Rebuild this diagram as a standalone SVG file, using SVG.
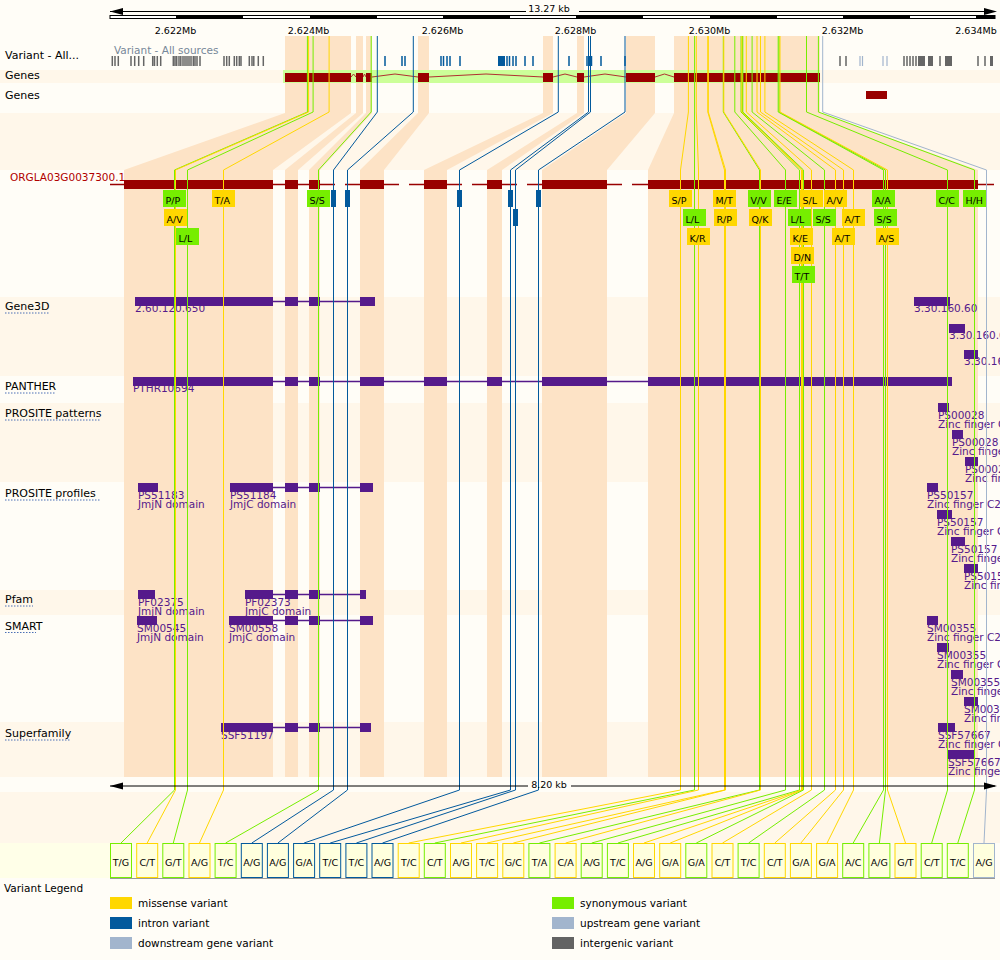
<svg xmlns="http://www.w3.org/2000/svg" width="1000" height="960" viewBox="0 0 1000 960">
<style>
text{font-family:"DejaVu Sans","Liberation Sans",sans-serif}
.tl{font-size:11px;fill:#000}
.mb{font-size:9.5px;fill:#000;text-anchor:middle}
.dom{font-size:10.5px;fill:#551a8b}
.vc{font-size:9.5px;fill:#000}
.bc{font-size:9.5px;fill:#000;text-anchor:middle}
.ul{stroke:#4a6fb5;stroke-width:1;stroke-dasharray:1.5,1.5;fill:none}
.pe{fill:#fde3c6}
.st{fill:#fff7ea}
.gx{fill:#990000}
.pu{fill:#551a8b}
.pl{stroke:#551a8b;stroke-width:1.5;fill:none}
.Y{fill:#ffd700}.G{fill:#76ee00}.B{fill:#02599c}.L{fill:#a2b5cd}.I{fill:#636363}
.cn polyline{fill:none;stroke-width:1}
.lY{stroke:#ffd700}.lG{stroke:#76ee00}.lB{stroke:#02599c}.lL{stroke:#a2b5cd}
.bx{fill:#ffffdd;stroke-width:1}
.sY{stroke:#ffd700}.sG{stroke:#76ee00}.sB{stroke:#02599c}.sL{stroke:#a2b5cd}
</style>
<defs>
<path id="arrL" d="M0,0 L13,-3.5 L13,3.5 Z"/>
</defs>
<!-- background -->
<rect x="0" y="0" width="1000" height="960" fill="#fffdf7"/>
<rect class="st" x="0" y="70" width="1000" height="13"/>
<rect class="st" x="0" y="113" width="1000" height="57"/>
<rect class="st" x="0" y="297" width="1000" height="79"/>
<rect class="st" x="0" y="403" width="1000" height="79"/>
<rect class="st" x="0" y="590" width="1000" height="25"/>
<rect class="st" x="0" y="722" width="1000" height="55"/>
<rect class="st" x="0" y="792" width="1000" height="51"/>
<rect x="0" y="843" width="995" height="35" fill="#ffffe8"/>

<!-- exon projection bands -->
<g id="bands">
<polygon class="pe" points="285,36 351,36 351,113 273,170 273,777 124,777 124,170 285,113"/>
<polygon class="pe" points="356,36 363,36 363,113 298,170 298,777 285,777 285,170 356,113"/>
<polygon class="pe" points="366,36 372,36 372,113 320,170 320,777 309,777 309,170 366,113"/>
<polygon class="pe" points="418,36 429,36 429,113 384,170 384,777 360,777 360,170 418,113"/>
<polygon class="pe" points="543,36 553,36 553,113 447,170 447,777 424,777 424,170 543,113"/>
<polygon class="pe" points="577,36 584,36 584,113 502,170 502,777 487,777 487,170 577,113"/>
<polygon class="pe" points="626,36 655,36 655,113 607,170 607,777 542,777 542,170 626,113"/>
<polygon class="pe" points="674,36 820,36 820,113 978,170 978,777 648,777 648,170 674,113"/>
</g>

<!-- top ruler -->
<g id="ruler-top">
<line x1="110" y1="11.5" x2="526" y2="11.5" stroke="#000"/>
<line x1="579" y1="11.5" x2="995" y2="11.5" stroke="#000"/>
<use href="#arrL" x="110" y="11.5"/>
<use href="#arrL" transform="translate(997,11.5) scale(-1,1)"/>
<text class="mb" x="549" y="12">13.27 kb</text>
<rect x="110" y="15.5" width="885" height="3" fill="#fff" stroke="#000" stroke-width="1"/>
<path d="M176,15.5h67v3h-67zM310,15.5h67v3h-67zM443,15.5h67v3h-67zM576,15.5h67v3h-67zM710,15.5h67v3h-67zM843,15.5h67v3h-67zM976,15.5h19v3h-19z" fill="#000"/>
<text class="mb" x="175.5" y="34">2.622Mb</text>
<text class="mb" x="308.5" y="34">2.624Mb</text>
<text class="mb" x="442.5" y="34">2.626Mb</text>
<text class="mb" x="575.5" y="34">2.628Mb</text>
<text class="mb" x="709.5" y="34">2.630Mb</text>
<text class="mb" x="842.5" y="34">2.632Mb</text>
<text class="mb" x="976" y="34">2.634Mb</text>
</g>

<!-- variant track -->
<g id="variant-track">
<text class="tl" x="5" y="59">Variant - All...</text>
<text x="114" y="54" style="font-size:10.5px;fill:#778899">Variant - All sources</text>
<path stroke="#666" stroke-width="1.5" d="M112.3,56v10M115,56v10M118.3,56v10M131,56v10M134.7,56v10M138.7,56v10M143.7,56v10M152.7,56v10M154.5,56v10M157.3,56v10M160.7,56v10M173.3,56v10M175,56v10M176.7,56v10M179,56v10M180.8,56v10M183,56v10M185,56v10M187,56v10M189,56v10M191,56v10M193.3,56v10M195,56v10M197,56v10M200,56v10M224,56v10M226.7,56v10M229.3,56v10M234.3,56v10M236.7,56v10M239.3,56v10M241,56v10M249.3,56v10M252,56v10M253.8,56v10M258.3,56v10M263.3,56v10M840,56v10M846,56v10M904,56v10M907,56v10M910,56v10M913,56v10M916,56v10M940,56v10M978,56v10M985,56v10"/>
<path fill="#666" d="M918,56h7v10h-7zM928,56h5v10h-5zM945,56h7v10h-7zM990,56h3v10h-3z"/>
<path stroke="#a2b5cd" stroke-width="1.2" d="M860,56v10M862.5,56v10M883,56v10M887,56v10"/>
<path stroke="#02599c" stroke-width="1.5" d="M385,56v10M402,56v10M405,56v10M441,56v10M443.5,56v10M447,56v10M450,56v10M460,56v10M507,56v10M509.5,56v10M513,56v10M516,56v10M525,56v10M533,56v10M569,56v10M587,56v10M589.3,56v10M591.5,56v10M601,56v10M625,56v10"/>
<rect x="498" y="56" width="7" height="10" fill="#02599c"/>
</g>

<!-- genes tracks -->
<g id="genes-1">
<text class="tl" x="5" y="79">Genes</text>
<rect x="283" y="70" width="537" height="13" fill="#ccff99"/>
<polyline fill="none" stroke="#b03030" stroke-width="1" points="351,77 353.5,74 356,77"/>
<polyline fill="none" stroke="#b03030" stroke-width="1" points="363,77 364.5,74 366,77"/>
<polyline fill="none" stroke="#b03030" stroke-width="1" points="372,77 395,74 418,77"/>
<polyline fill="none" stroke="#b03030" stroke-width="1" points="429,77 486,74 543,77"/>
<polyline fill="none" stroke="#b03030" stroke-width="1" points="553,77 565,74 577,77"/>
<polyline fill="none" stroke="#b03030" stroke-width="1" points="584,77 605,74 626,77"/>
<polyline fill="none" stroke="#b03030" stroke-width="1" points="655,77 664.5,74 674,77"/>
<path class="gx" d="M285,73h66v9h-66zM356,73h7v9h-7zM366,73h6v9h-6zM418,73h11v9h-11zM543,73h10v9h-10zM577,73h7v9h-7zM626,73h29v9h-29zM674,73h146v9h-146z"/>
</g>
<g id="genes-2">
<text class="tl" x="5" y="99">Genes</text>
<rect class="gx" x="866" y="91" width="21" height="8"/>
</g>

<!-- transcript -->
<g id="transcript">
<text x="10" y="181" style="font-size:10.5px;fill:#b00000">ORGLA03G0037300.1</text>
<path stroke="#990000" stroke-width="1.5" d="M110,184.5h14M273,184.5h12M298,184.5h11M320,184.5h15M345,184.5h15M384,184.5h15M409,184.5h15M447,184.5h15M472,184.5h15M502,184.5h15M527,184.5h15M607,184.5h15M632,184.5h16M978,184.5h16"/>
<path class="gx" d="M124,180h149v9h-149zM285,180h13v9h-13zM309,180h11v9h-11zM360,180h24v9h-24zM424,180h23v9h-23zM487,180h15v9h-15zM542,180h65v9h-65zM648,180h330v9h-330z"/>
</g>

<!-- domain tracks -->
<g id="gene3d">
<text class="tl" x="5" y="310">Gene3D</text><line class="ul" x1="5" y1="313" x2="49" y2="313"/>
<line class="pl" x1="273" y1="301.5" x2="360" y2="301.5"/>
<path class="pu" d="M135,297h138v9h-138zM285,297h13v9h-13zM309,297h11v9h-11zM360,297h15v9h-15zM914,297h36v9h-36zM949,324h16v9h-16zM964,350h14v9h-14z"/>
<text class="dom" x="135" y="312">2.60.120.650</text>
<text class="dom" x="914" y="312">3.30.160.60</text>
<text class="dom" x="949" y="339">3.30.160.60</text>
<text class="dom" x="964" y="365">3.30.160.60</text>
</g>
<g id="panther">
<text class="tl" x="5" y="390">PANTHER</text><line class="ul" x1="5" y1="393" x2="56" y2="393"/>
<line class="pl" x1="273" y1="381.5" x2="952" y2="381.5"/>
<path class="pu" d="M133,377h140v9h-140zM285,377h13v9h-13zM309,377h11v9h-11zM360,377h24v9h-24zM424,377h23v9h-23zM487,377h15v9h-15zM542,377h65v9h-65zM648,377h304v9h-304z"/>
<text class="dom" x="133" y="392">PTHR10694</text>
</g>
<g id="prosite-patterns">
<text class="tl" x="5" y="417">PROSITE patterns</text><line class="ul" x1="5" y1="420" x2="101" y2="420"/>
<path class="pu" d="M938,403h11v9h-11zM952,430h11v9h-11zM965,457h13v9h-13z"/>
<text class="dom" x="938" y="418.5">PS00028</text><text class="dom" x="938" y="428">Zinc finger C2H2</text>
<text class="dom" x="952" y="445.5">PS00028</text><text class="dom" x="952" y="455">Zinc finger C2H2</text>
<text class="dom" x="965" y="472.5">PS00028</text><text class="dom" x="965" y="482">Zinc finger C2H2</text>
</g>
<g id="prosite-profiles">
<text class="tl" x="5" y="497">PROSITE profiles</text><line class="ul" x1="5" y1="500" x2="100" y2="500"/>
<line class="pl" x1="273" y1="487.5" x2="373" y2="487.5"/>
<path class="pu" d="M138,483h20v9h-20zM230,483h43v9h-43zM285,483h13v9h-13zM309,483h11v9h-11zM360,483h13v9h-13zM927,483h11v9h-11zM937,510h15v9h-15zM951,537h14v9h-14zM964,564h14v9h-14z"/>
<text class="dom" x="138" y="498.5">PS51183</text><text class="dom" x="138" y="508">JmjN domain</text>
<text class="dom" x="230" y="498.5">PS51184</text><text class="dom" x="230" y="508">JmjC domain</text>
<text class="dom" x="927" y="498.5">PS50157</text><text class="dom" x="927" y="508">Zinc finger C2H2</text>
<text class="dom" x="937" y="525.5">PS50157</text><text class="dom" x="937" y="535">Zinc finger C2H2</text>
<text class="dom" x="951" y="552.5">PS50157</text><text class="dom" x="951" y="562">Zinc finger C2H2</text>
<text class="dom" x="964" y="579.5">PS50157</text><text class="dom" x="964" y="589">Zinc finger C2H2</text>
</g>
<g id="pfam">
<text class="tl" x="5" y="603">Pfam</text><line class="ul" x1="5" y1="606" x2="33" y2="606"/>
<line class="pl" x1="273" y1="594.5" x2="366" y2="594.5"/>
<path class="pu" d="M138,590h17v9h-17zM245,590h28v9h-28zM285,590h13v9h-13zM309,590h11v9h-11zM360,590h6v9h-6z"/>
<text class="dom" x="138" y="605.5">PF02375</text><text class="dom" x="138" y="615">JmjN domain</text>
<text class="dom" x="245" y="605.5">PF02373</text><text class="dom" x="245" y="615">JmjC domain</text>
</g>
<g id="smart">
<text class="tl" x="5" y="629.5">SMART</text><line class="ul" x1="5" y1="632.5" x2="36" y2="632.5"/>
<line class="pl" x1="273" y1="620.5" x2="373" y2="620.5"/>
<path class="pu" d="M137,616h20v9h-20zM229,616h44v9h-44zM285,616h13v9h-13zM309,616h11v9h-11zM360,616h13v9h-13zM927,616h11v9h-11zM937,643h12v9h-12zM951,670h12v9h-12zM964,697h14v9h-14z"/>
<text class="dom" x="137" y="631.5">SM00545</text><text class="dom" x="137" y="641">JmjN domain</text>
<text class="dom" x="229" y="631.5">SM00558</text><text class="dom" x="229" y="641">JmjC domain</text>
<text class="dom" x="927" y="631.5">SM00355</text><text class="dom" x="927" y="641">Zinc finger C2H2</text>
<text class="dom" x="937" y="658.5">SM00355</text><text class="dom" x="937" y="668">Zinc finger C2H2</text>
<text class="dom" x="951" y="685.5">SM00355</text><text class="dom" x="951" y="695">Zinc finger C2H2</text>
<text class="dom" x="964" y="712.5">SM00355</text><text class="dom" x="964" y="722">Zinc finger C2H2</text>
</g>
<g id="superfamily">
<text class="tl" x="5" y="737">Superfamily</text><line class="ul" x1="5" y1="740" x2="71" y2="740"/>
<line class="pl" x1="273" y1="727.5" x2="371" y2="727.5"/>
<path class="pu" d="M221,723h52v9h-52zM285,723h13v9h-13zM309,723h11v9h-11zM360,723h11v9h-11zM938,723h17v9h-17zM948,750h27v9h-27z"/>
<text class="dom" x="221" y="738.5">SSF51197</text>
<text class="dom" x="938" y="738.5">SSF57667</text><text class="dom" x="938" y="748">Zinc finger C2H2</text>
<text class="dom" x="948" y="765.5">SSF57667</text><text class="dom" x="948" y="775">Zinc finger C2H2</text>
</g>

<!-- variant connectors -->
<g id="connectors" class="cn">
<polyline class="lG" points="307.4,36 307.4,112 174.5,170 174.5,790 121,843"/>
<polyline class="lY" points="308.6,36 308.6,112 175.5,170 175.5,790 147.2,843"/>
<polyline class="lG" points="313.1,36 313.1,112 187.5,170 187.5,790 173.3,843"/>
<polyline class="lY" points="329.1,36 329.1,112 223.5,170 223.5,790 199.5,843"/>
<polyline class="lG" points="371.2,36 371.2,112 318.5,170 318.5,790 225.6,843"/>
<polyline class="lB" points="377.3,36 377.3,112 333.5,170 333.5,790 251.8,843"/>
<polyline class="lB" points="413.3,36 413.3,112 347.5,170 347.5,790 277.9,843"/>
<polyline class="lB" points="558.3,36 558.3,112 459.5,170 459.5,790 304.1,843"/>
<polyline class="lB" points="588.5,36 588.5,112 510.5,170 510.5,790 330.2,843"/>
<polyline class="lB" points="590.5,36 590.5,112 515.5,170 515.5,790 356.4,843"/>
<polyline class="lB" points="625,36 625,112 538.5,170 538.5,790 382.5,843"/>
<polyline class="lY" points="688.4,36 688.4,112 680.5,170 680.5,790 408.7,843"/>
<polyline class="lG" points="694.6,36 694.6,112 694.5,170 694.5,790 434.8,843"/>
<polyline class="lY" points="696.3,36 696.3,112 698.5,170 698.5,790 461,843"/>
<polyline class="lY" points="707.8,36 707.8,112 724.5,170 724.5,790 487.1,843"/>
<polyline class="lY" points="708.3,36 708.3,112 725.5,170 725.5,790 513.3,843"/>
<polyline class="lG" points="723.3,36 723.3,112 759.5,170 759.5,790 539.4,843"/>
<polyline class="lY" points="723.8,36 723.8,112 760.5,170 760.5,790 565.6,843"/>
<polyline class="lG" points="734.8,36 734.8,112 785.5,170 785.5,790 591.7,843"/>
<polyline class="lG" points="741,36 741,112 799.5,170 799.5,790 617.9,843"/>
<polyline class="lY" points="741.9,36 741.9,112 801.5,170 801.5,790 644,843"/>
<polyline class="lY" points="742.4,36 742.4,112 802.5,170 802.5,790 670.2,843"/>
<polyline class="lG" points="742.8,36 742.8,112 803.5,170 803.5,790 696.3,843"/>
<polyline class="lY" points="746.3,36 746.3,112 811.5,170 811.5,790 722.5,843"/>
<polyline class="lG" points="752.1,36 752.1,112 824.5,170 824.5,790 748.6,843"/>
<polyline class="lY" points="757,36 757,112 835.5,170 835.5,790 774.8,843"/>
<polyline class="lY" points="760.5,36 760.5,112 843.5,170 843.5,790 800.9,843"/>
<polyline class="lY" points="764.9,36 764.9,112 853.5,170 853.5,790 827.1,843"/>
<polyline class="lG" points="778.2,36 778.2,112 883.5,170 883.5,790 853.2,843"/>
<polyline class="lG" points="779.1,36 779.1,112 885.5,170 885.5,790 879.4,843"/>
<polyline class="lY" points="780,36 780,112 887.5,170 887.5,790 905.5,843"/>
<polyline class="lG" points="806.5,36 806.5,112 947.5,170 947.5,790 931.7,843"/>
<polyline class="lG" points="818.4,36 818.4,112 974.5,170 974.5,790 957.8,843"/>
<polyline class="lL" points="822.7,36 822.7,112 986.5,170 986.5,790 984,843"/>
</g>

<!-- variant labels on transcript -->
<g id="variant-labels">
<path class="B" d="M331,190h5v17h-5zM345,190h5v17h-5zM457,190h5v17h-5zM508,190h5v17h-5zM513,209h5v17h-5zM536,190h5v17h-5z"/>
<g class="G"><rect x="163" y="190" width="23" height="17"/><rect x="176" y="228" width="23" height="17"/><rect x="307" y="190" width="23" height="17"/><rect x="748" y="190" width="23" height="17"/><rect x="774" y="190" width="23" height="17"/><rect x="872" y="190" width="23" height="17"/><rect x="936" y="190" width="23" height="17"/><rect x="963" y="190" width="23" height="17"/><rect x="683" y="209" width="23" height="17"/><rect x="788" y="209" width="23" height="17"/><rect x="813" y="209" width="23" height="17"/><rect x="874" y="209" width="23" height="17"/><rect x="792" y="266" width="23" height="17"/></g>
<g class="Y"><rect x="164" y="209" width="23" height="17"/><rect x="212" y="190" width="23" height="17"/><rect x="669" y="190" width="23" height="17"/><rect x="713" y="190" width="23" height="17"/><rect x="800" y="190" width="23" height="17"/><rect x="824" y="190" width="23" height="17"/><rect x="714" y="209" width="23" height="17"/><rect x="749" y="209" width="23" height="17"/><rect x="842" y="209" width="23" height="17"/><rect x="687" y="228" width="23" height="17"/><rect x="790" y="228" width="23" height="17"/><rect x="832" y="228" width="23" height="17"/><rect x="876" y="228" width="23" height="17"/><rect x="791" y="247" width="23" height="17"/></g>
<g class="vc">
<text x="165.5" y="204">P/P</text><text x="166.5" y="223">A/V</text><text x="178.5" y="242">L/L</text><text x="214.5" y="204">T/A</text><text x="309.5" y="204">S/S</text>
<text x="671.5" y="204">S/P</text><text x="715.5" y="204">M/T</text><text x="750.5" y="204">V/V</text><text x="776.5" y="204">E/E</text><text x="802.5" y="204">S/L</text><text x="826.5" y="204">A/V</text><text x="874.5" y="204">A/A</text><text x="938.5" y="204">C/C</text><text x="965.5" y="204">H/H</text>
<text x="685.5" y="223">L/L</text><text x="716.5" y="223">R/P</text><text x="751.5" y="223">Q/K</text><text x="790.5" y="223">L/L</text><text x="815.5" y="223">S/S</text><text x="844.5" y="223">A/T</text><text x="876.5" y="223">S/S</text>
<text x="689.5" y="242">K/R</text><text x="792.5" y="242">K/E</text><text x="834.5" y="242">A/T</text><text x="878.5" y="242">A/S</text>
<text x="793.5" y="261">D/N</text><text x="794.5" y="280">T/T</text>
</g>
</g>

<!-- bottom ruler -->
<g id="ruler-bottom">
<line x1="110" y1="786" x2="528" y2="786" stroke="#000"/>
<line x1="571" y1="786" x2="995" y2="786" stroke="#000"/>
<use href="#arrL" x="110" y="786"/>
<use href="#arrL" transform="translate(997,786) scale(-1,1)"/>
<text class="mb" x="549" y="788">8.20 kb</text>
</g>

<!-- variant boxes -->
<g id="variant-boxes">
<line x1="110" y1="878.5" x2="995" y2="878.5" stroke="#999"/>
<rect class="bx sG" x="110.5" y="843.5" width="21" height="34"/>
<rect class="bx sY" x="136.7" y="843.5" width="21" height="34"/>
<rect class="bx sG" x="162.8" y="843.5" width="21" height="34"/>
<rect class="bx sY" x="189" y="843.5" width="21" height="34"/>
<rect class="bx sG" x="215.1" y="843.5" width="21" height="34"/>
<rect class="bx sB" x="241.3" y="843.5" width="21" height="34"/>
<rect class="bx sB" x="267.4" y="843.5" width="21" height="34"/>
<rect class="bx sB" x="293.6" y="843.5" width="21" height="34"/>
<rect class="bx sB" x="319.7" y="843.5" width="21" height="34"/>
<rect class="bx sB" x="345.9" y="843.5" width="21" height="34"/>
<rect class="bx sB" x="372" y="843.5" width="21" height="34"/>
<rect class="bx sY" x="398.2" y="843.5" width="21" height="34"/>
<rect class="bx sG" x="424.3" y="843.5" width="21" height="34"/>
<rect class="bx sY" x="450.5" y="843.5" width="21" height="34"/>
<rect class="bx sY" x="476.6" y="843.5" width="21" height="34"/>
<rect class="bx sY" x="502.8" y="843.5" width="21" height="34"/>
<rect class="bx sG" x="528.9" y="843.5" width="21" height="34"/>
<rect class="bx sY" x="555.1" y="843.5" width="21" height="34"/>
<rect class="bx sG" x="581.2" y="843.5" width="21" height="34"/>
<rect class="bx sG" x="607.4" y="843.5" width="21" height="34"/>
<rect class="bx sY" x="633.5" y="843.5" width="21" height="34"/>
<rect class="bx sY" x="659.7" y="843.5" width="21" height="34"/>
<rect class="bx sG" x="685.8" y="843.5" width="21" height="34"/>
<rect class="bx sY" x="712" y="843.5" width="21" height="34"/>
<rect class="bx sG" x="738.1" y="843.5" width="21" height="34"/>
<rect class="bx sY" x="764.3" y="843.5" width="21" height="34"/>
<rect class="bx sY" x="790.4" y="843.5" width="21" height="34"/>
<rect class="bx sY" x="816.6" y="843.5" width="21" height="34"/>
<rect class="bx sG" x="842.7" y="843.5" width="21" height="34"/>
<rect class="bx sG" x="868.9" y="843.5" width="21" height="34"/>
<rect class="bx sY" x="895" y="843.5" width="21" height="34"/>
<rect class="bx sG" x="921.2" y="843.5" width="21" height="34"/>
<rect class="bx sG" x="947.3" y="843.5" width="21" height="34"/>
<rect class="bx sL" x="973.5" y="843.5" width="21" height="34"/>
<g class="bc">
<text x="121" y="866">T/G</text><text x="147.2" y="866">C/T</text><text x="173.3" y="866">G/T</text><text x="199.5" y="866">A/G</text><text x="225.6" y="866">T/C</text><text x="251.8" y="866">A/G</text><text x="277.9" y="866">A/G</text><text x="304.1" y="866">G/A</text><text x="330.2" y="866">T/C</text><text x="356.4" y="866">T/C</text><text x="382.5" y="866">A/G</text><text x="408.7" y="866">T/C</text><text x="434.8" y="866">C/T</text><text x="461" y="866">A/G</text><text x="487.1" y="866">T/C</text><text x="513.3" y="866">G/C</text><text x="539.4" y="866">T/A</text>
<text x="565.6" y="866">C/A</text><text x="591.7" y="866">A/G</text><text x="617.9" y="866">T/C</text><text x="644" y="866">A/G</text><text x="670.2" y="866">G/A</text><text x="696.3" y="866">G/A</text><text x="722.5" y="866">C/T</text><text x="748.6" y="866">T/C</text><text x="774.8" y="866">C/T</text><text x="800.9" y="866">G/A</text><text x="827.1" y="866">G/A</text><text x="853.2" y="866">A/C</text><text x="879.4" y="866">A/G</text><text x="905.5" y="866">G/T</text><text x="931.7" y="866">C/T</text><text x="957.8" y="866">T/C</text><text x="984" y="866">A/G</text>
</g>
</g>

<!-- legend -->
<g id="legend">
<text x="4" y="892" style="font-size:10.5px;fill:#000">Variant Legend</text>
<rect class="Y" x="110" y="897" width="22" height="12"/><text x="138" y="907" style="font-size:10.5px">missense variant</text>
<rect class="B" x="110" y="917" width="22" height="12"/><text x="138" y="927" style="font-size:10.5px">intron variant</text>
<rect class="L" x="110" y="937" width="22" height="12"/><text x="138" y="947" style="font-size:10.5px">downstream gene variant</text>
<rect class="G" x="552" y="897" width="22" height="12"/><text x="580" y="907" style="font-size:10.5px">synonymous variant</text>
<rect class="L" x="552" y="917" width="22" height="12"/><text x="580" y="927" style="font-size:10.5px">upstream gene variant</text>
<rect class="I" x="552" y="937" width="22" height="12"/><text x="580" y="947" style="font-size:10.5px">intergenic variant</text>
</g>
</svg>
